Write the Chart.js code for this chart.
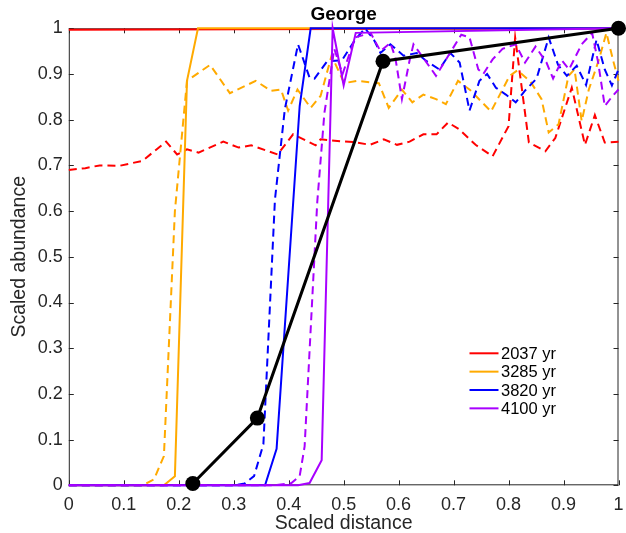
<!DOCTYPE html>
<html>
<head>
<meta charset="utf-8">
<script src="https://cdn.jsdelivr.net/npm/chart.js@4/dist/chart.umd.min.js"></script>
<style>
html,body{margin:0;padding:0;background:#fff;}
canvas{display:block;}
</style>
</head>
<body>
<canvas id="c" width="626" height="533"></canvas>
<script>
// ---- data ----
const chartTitle = "George";
const xTickLabels = ["0","0.1","0.2","0.3","0.4","0.5","0.6","0.7","0.8","0.9","1"];
const yTickLabels = ["0","0.1","0.2","0.3","0.4","0.5","0.6","0.7","0.8","0.9","1"];
const seriesNames = ["2037 yr","3285 yr","3820 yr","4100 yr"];

// solid lines
const red_x    = [0, 1];
const red_y    = [0.997, 1];
const orange_x = [0, 0.173, 0.193, 0.215, 0.235, 1];
const orange_y = [0, 0, 0.02, 0.885, 1, 1];
const blue_x   = [0, 0.357, 0.378, 0.42, 0.44, 1];
const blue_y   = [0, 0, 0.08, 0.83, 1, 1];
const purple_x = [0, 0.417, 0.438, 0.46, 0.48, 0.5, 0.522, 1];
const purple_y = [0, 0, 0.005, 0.055, 1, 0.875, 0.99, 1];

// dashed lines
const redD_x = [0,0.03,0.056,0.092,0.134,0.177,0.197,0.215,0.236,0.281,0.309,0.332,0.38,0.408,0.449,0.458,0.494,0.519,0.548,0.573,0.597,0.62,0.645,0.669,0.69,0.71,0.74,0.771,0.80,0.812,0.837,0.867,0.885,0.915,0.939,0.957,0.975,1.0];
const redD_y = [0.69,0.694,0.70,0.699,0.71,0.752,0.724,0.735,0.728,0.752,0.739,0.744,0.724,0.768,0.744,0.757,0.753,0.751,0.745,0.757,0.745,0.752,0.768,0.768,0.794,0.779,0.745,0.72,0.786,0.98,0.75,0.731,0.76,0.87,0.745,0.81,0.75,0.752];
const orangeD_x = [0,0.134,0.155,0.173,0.193,0.215,0.257,0.293,0.34,0.368,0.386,0.399,0.416,0.44,0.458,0.478,0.501,0.524,0.564,0.582,0.606,0.625,0.645,0.668,0.686,0.708,0.73,0.768,0.782,0.802,0.816,0.84,0.86,0.873,0.891,0.909,0.92,0.933,0.946,0.964,0.978,0.991,1.0];
const orangeD_y = [0,0,0.013,0.064,0.60,0.885,0.92,0.858,0.885,0.863,0.866,0.82,0.866,0.826,0.852,0.94,0.88,0.885,0.88,0.826,0.866,0.838,0.855,0.845,0.834,0.885,0.865,0.818,0.85,0.896,0.908,0.883,0.845,0.772,0.79,0.896,0.91,0.797,0.866,0.93,0.99,0.926,0.885];
const blueD_x = [0,0.30,0.32,0.337,0.354,0.375,0.393,0.417,0.438,0.447,0.47,0.497,0.521,0.539,0.555,0.567,0.585,0.609,0.633,0.651,0.674,0.694,0.711,0.729,0.747,0.761,0.777,0.795,0.813,0.831,0.851,0.873,0.89,0.906,0.924,0.941,0.96,0.975,0.988,1.0];
const blueD_y = [0,0,0.004,0.02,0.09,0.625,0.823,0.965,0.892,0.89,0.928,0.93,0.975,1.0,0.975,0.946,0.965,0.94,0.946,0.928,0.91,0.946,0.925,0.82,0.885,0.90,0.87,0.855,0.838,0.865,0.89,0.98,0.92,0.896,0.918,0.876,0.975,0.91,0.875,0.91];
const purpleD_x = [0,0.375,0.405,0.42,0.429,0.452,0.465,0.483,0.498,0.521,0.549,0.567,0.585,0.594,0.606,0.62,0.627,0.645,0.668,0.692,0.714,0.729,0.745,0.754,0.771,0.789,0.813,0.83,0.849,0.869,0.881,0.897,0.91,0.933,0.952,0.963,0.975,0.988,1.0];
const purpleD_y = [0,0,0.005,0.02,0.085,0.62,0.815,0.955,0.90,0.98,0.99,0.95,0.968,0.936,0.845,0.93,0.965,0.935,0.896,0.943,0.986,0.98,0.91,0.9,0.932,0.955,0.965,0.925,0.96,0.925,0.89,0.93,0.91,0.965,0.99,0.925,0.83,0.85,0.866];

// black line with markers
const black_x = [0.2256, 0.343, 0.5716, 1.0];
const black_y = [0.004, 0.147, 0.928, 1.0];

// ---- styling ----
const colors = ["#ff0000", "#ffaa00", "#0000ff", "#a800ff"];
const FONT = "'Liberation Sans', Arial, Helvetica, sans-serif";
const AXIS_COLOR = "#262626";

function pts(xs, ys){ return xs.map((x,i)=>({x:x, y:ys[i]})); }

function lineDs(label, xs, ys, color, dashed, order){
  return {
    label: label,
    data: pts(xs, ys),
    borderColor: color,
    backgroundColor: color,
    borderWidth: 2,
    borderDash: dashed ? [8,5] : [],
    pointRadius: 0,
    tension: 0,
    fill: false,
    clip: false,
    order: order
  };
}

const datasets = [
  lineDs(seriesNames[0], red_x, red_y, colors[0], false, 20),
  lineDs(seriesNames[0]+" d", redD_x, redD_y, colors[0], true, 19),
  lineDs(seriesNames[1], orange_x, orange_y, colors[1], false, 18),
  lineDs(seriesNames[1]+" d", orangeD_x, orangeD_y, colors[1], true, 17),
  lineDs(seriesNames[2], blue_x, blue_y, colors[2], false, 16),
  lineDs(seriesNames[2]+" d", blueD_x, blueD_y, colors[2], true, 15),
  lineDs(seriesNames[3]+" d", purpleD_x, purpleD_y, colors[3], true, 14),
  lineDs(seriesNames[3], purple_x, purple_y, colors[3], false, 13),
  {
    label: "fit",
    data: pts(black_x, black_y),
    borderColor: "#000000",
    backgroundColor: "#000000",
    borderWidth: 3,
    pointRadius: 7.5,
    pointBackgroundColor: "#000000",
    pointBorderColor: "#000000",
    pointBorderWidth: 0,
    tension: 0,
    fill: false,
    clip: false,
    order: 0
  }
];

const boxPlugin = {
  id: 'boxTicks',
  beforeDatasetsDraw(chart){
    const {ctx, chartArea:a, scales} = chart;
    ctx.save();
    ctx.strokeStyle = AXIS_COLOR;
    ctx.lineWidth = 1;
    ctx.strokeRect(a.left+0.5, a.top+0.5, a.right-a.left-1, a.bottom-a.top-1);
    const tl = 5;
    ctx.beginPath();
    scales.x.ticks.forEach(t=>{
      const px = Math.round(scales.x.getPixelForValue(t.value))+0.5;
      ctx.moveTo(px, a.bottom); ctx.lineTo(px, a.bottom-tl);
      ctx.moveTo(px, a.top); ctx.lineTo(px, a.top+tl);
    });
    scales.y.ticks.forEach(t=>{
      const py = Math.round(scales.y.getPixelForValue(t.value))+0.5;
      ctx.moveTo(a.left, py); ctx.lineTo(a.left+tl, py);
      ctx.moveTo(a.right, py); ctx.lineTo(a.right-tl, py);
    });
    ctx.stroke();
    ctx.restore();
  },
  afterDraw(chart){
    const {ctx, chartArea:a} = chart;
    ctx.save();
    // title
    ctx.fillStyle = "#000000";
    ctx.font = "bold 19px " + FONT;
    ctx.textAlign = "center";
    ctx.textBaseline = "middle";
    ctx.fillText(chartTitle, (a.left+a.right)/2, 15);
    // legend
    ctx.font = "16.5px " + FONT;
    ctx.textAlign = "left";
    const x0 = 469.5, x1 = 498.5, tx = 501;
    seriesNames.forEach((name, i)=>{
      const y = 353.3 + i*18.35;
      ctx.strokeStyle = colors[i];
      ctx.lineWidth = 2;
      ctx.setLineDash([]);
      ctx.beginPath(); ctx.moveTo(x0, y); ctx.lineTo(x1, y); ctx.stroke();
      ctx.fillStyle = "#000000";
      ctx.fillText(name, tx, y+1);
    });
    ctx.restore();
  }
};

new Chart(document.getElementById('c'), {
  type: 'line',
  data: { datasets: datasets },
  options: {
    responsive: false,
    animation: false,
    events: [],
    layout: { padding: { left: 4, right: 2.2, top: 28.3, bottom: 0 } },
    plugins: { legend: { display: false }, tooltip: { enabled: false }, title: { display: false } },
    scales: {
      x: {
        type: 'linear', min: 0, max: 1,
        afterFit: s => { s.height = 47.7; s.paddingLeft = 0; s.paddingRight = 0; },
        grid: { display: false, drawTicks: false },
        border: { display: false },
        ticks: {
          stepSize: 0.1, autoSkip: false, maxRotation: 0, padding: 9,
          color: AXIS_COLOR, font: { family: FONT, size: 18 },
          callback: (v, i) => xTickLabels[i]
        },
        title: { display: true, text: "Scaled distance", color: AXIS_COLOR,
                 font: { family: FONT, size: 19.5 }, padding: { top: 0, bottom: -2 } }
      },
      y: {
        type: 'linear', min: 0, max: 1,
        afterFit: s => { s.width = 64.8; s.paddingTop = 0; s.paddingBottom = 0; },
        grid: { display: false, drawTicks: false },
        border: { display: false },
        ticks: {
          stepSize: 0.1, autoSkip: false, padding: 6,
          color: AXIS_COLOR, font: { family: FONT, size: 18 },
          callback: (v, i) => yTickLabels[i]
        },
        title: { display: true, text: "Scaled abundance", color: AXIS_COLOR,
                 font: { family: FONT, size: 19.5 }, padding: { top: 4, bottom: 0 } }
      }
    }
  },
  plugins: [boxPlugin]
});
</script>
</body>
</html>
